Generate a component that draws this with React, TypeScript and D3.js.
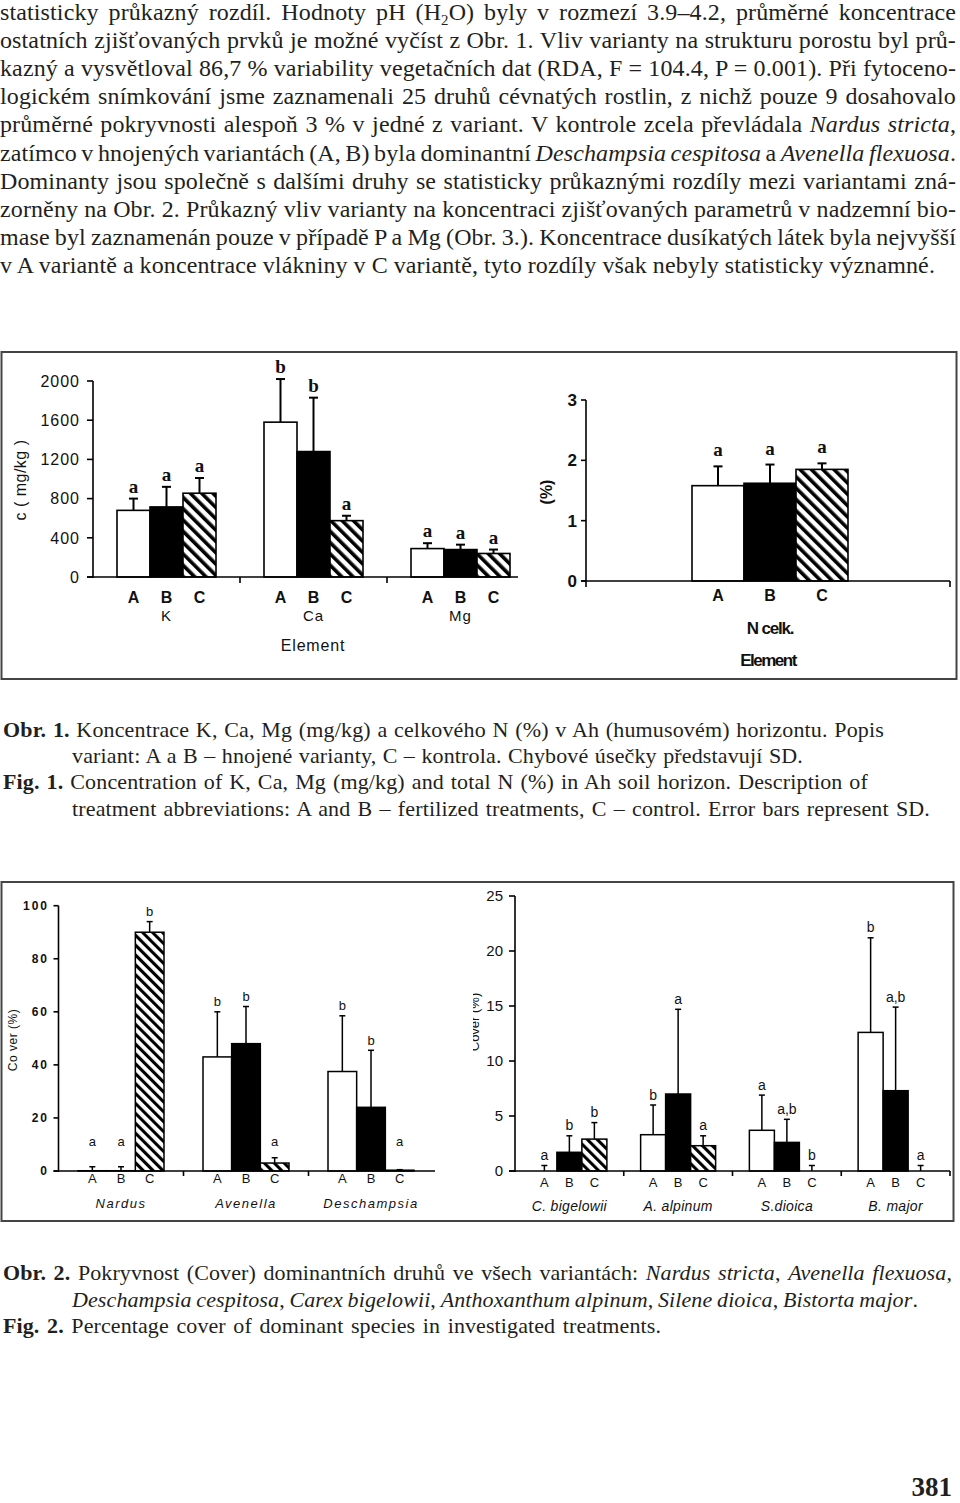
import React, { useLayoutEffect, useRef } from "react";
import * as d3 from "d3";

// ---------------- DATA ----------------
const variants = ["A", "B", "C"];

// Fig. 1 – soil concentrations (mg/kg)
const elements = ["K", "Ca", "Mg"];
const concA = [680, 1580, 290];
const concB = [715, 1280, 280];
const concC = [855, 575, 240];
const concSdA = [120, 440, 55];
const concSdB = [205, 550, 50];
const concSdC = [155, 50, 40];
const concLetA = ["a", "b", "a"];
const concLetB = ["a", "b", "a"];
const concLetC = ["a", "a", "a"];
const concTicks = [0, 400, 800, 1200, 1600, 2000];

// Fig. 1 – total N (%)
const nGroups = ["N celk."];
const nA = [1.58];
const nB = [1.62];
const nC = [1.85];
const nSdA = [0.32];
const nSdB = [0.31];
const nSdC = [0.1];
const nLetA = ["a"];
const nLetB = ["a"];
const nLetC = ["a"];
const nTicks = [0, 1, 2, 3];

// Fig. 2 – cover of dominant grasses (%)
const grasses = ["Nardus", "Avenella", "Deschampsia"];
const grassA = [0.1, 43, 37.5];
const grassB = [0.1, 48, 24];
const grassC = [90, 3, 0.3];
const grassSdA = [1.5, 17, 21];
const grassSdB = [1.5, 14, 21.5];
const grassSdC = [4, 2, 0.2];
const grassLetA = ["a", "b", "b"];
const grassLetB = ["a", "b", "b"];
const grassLetC = ["b", "a", "a"];
const grassTicks = [0, 20, 40, 60, 80, 100];

// Fig. 2 – cover of other species (%)
const herbs = ["C. bigelowii", "A. alpinum", "S.dioica", "B. major"];
const herbA = [0, 3.3, 3.7, 12.6];
const herbB = [1.7, 7.0, 2.6, 7.3];
const herbC = [2.9, 2.3, 0, 0];
const herbSdA = [0.5, 2.7, 3.2, 8.6];
const herbSdB = [1.5, 7.7, 2.1, 7.6];
const herbSdC = [1.5, 0.9, 0.5, 0.5];
const herbLetA = ["a", "b", "a", "b"];
const herbLetB = ["b", "a", "a,b", "a,b"];
const herbLetC = ["b", "a", "b", "a"];
const herbTicks = [0, 5, 10, 15, 20, 25];

// ---------------- TEXT ----------------
type Seg = { t: string; s?: "i" | "b" | "sub" };
const paraLines: Seg[][] = [
  [{ t: "statisticky průkazný rozdíl. Hodnoty pH (H" }, { t: "2", s: "sub" }, { t: "O) byly v rozmezí 3.9–4.2, průměrné koncentrace" }],
  [{ t: "ostatních zjišťovaných prvků je možné vyčíst z Obr. 1. Vliv varianty na strukturu porostu byl prů-" }],
  [{ t: "kazný a vysvětloval 86,7 % variability vegetačních dat (RDA, F = 104.4, P = 0.001). Při fytoceno-" }],
  [{ t: "logickém snímkování jsme zaznamenali 25 druhů cévnatých rostlin, z nichž pouze 9 dosahovalo" }],
  [{ t: "průměrné pokryvnosti alespoň 3 % v jedné z variant. V kontrole zcela převládala " }, { t: "Nardus stricta", s: "i" }, { t: "," }],
  [{ t: "zatímco v hnojených variantách (A, B) byla dominantní " }, { t: "Deschampsia cespitosa", s: "i" }, { t: " a " }, { t: "Avenella flexuosa", s: "i" }, { t: "." }],
  [{ t: "Dominanty jsou společně s dalšími druhy se statisticky průkaznými rozdíly mezi variantami zná-" }],
  [{ t: "zorněny na Obr. 2. Průkazný vliv varianty na koncentraci zjišťovaných parametrů v nadzemní bio-" }],
  [{ t: "mase byl zaznamenán pouze v případě P a Mg (Obr. 3.). Koncentrace dusíkatých látek byla nejvyšší" }],
  [{ t: "v A variantě a koncentrace vlákniny v C variantě, tyto rozdíly však nebyly statisticky významné." }],
];
const cap1Lines: Seg[][] = [
  [{ t: "Obr. 1.", s: "b" }, { t: " Koncentrace K, Ca, Mg (mg/kg) a celkového N (%) v Ah (humusovém) horizontu. Popis" }],
  [{ t: "variant: A a B – hnojené varianty, C – kontrola. Chybové úsečky představují SD." }],
  [{ t: "Fig. 1.", s: "b" }, { t: " Concentration of K, Ca, Mg (mg/kg) and total N (%) in Ah soil horizon. Description of" }],
  [{ t: "treatment abbreviations: A and B – fertilized treatments, C – control. Error bars represent SD." }],
];
const cap2Lines: Seg[][] = [
  [{ t: "Obr. 2.", s: "b" }, { t: " Pokryvnost (Cover) dominantních druhů ve všech variantách: " }, { t: "Nardus stricta", s: "i" }, { t: ", " }, { t: "Avenella flexuosa", s: "i" }, { t: "," }],
  [{ t: "Deschampsia cespitosa", s: "i" }, { t: ", " }, { t: "Carex bigelowii", s: "i" }, { t: ", " }, { t: "Anthoxanthum alpinum", s: "i" }, { t: ", " }, { t: "Silene dioica", s: "i" }, { t: ", " }, { t: "Bistorta major", s: "i" }, { t: "." }],
  [{ t: "Fig. 2.", s: "b" }, { t: " Percentage cover of dominant species in investigated treatments." }],
];
const pageNumber = "381";

// ---------------- LAYOUT ----------------
const SANS = "'Liberation Sans', Arial, Helvetica, sans-serif";
const SERIF = "'Liberation Serif', 'Times New Roman', serif";
const INK = "#231f20";

const paraEnds = [956, 956, 956, 956, 956, 956, 956, 956, 956, 935];
const cap1X = [3, 72, 3, 72];
const cap1Ends = [884, 803, 868, 930];
const cap2X = [3, 72, 3];
const cap2Ends = [952, 918, 661];

function Line({ segs, x, y, end, size, ls }: { segs: Seg[]; x: number; y: number; end: number; size: number; ls: number }) {
  let prevSub = false;
  return (
    <text x={x} y={y} data-end={end} fontFamily={SERIF} fontSize={size} letterSpacing={ls} fill={INK}>
      {segs.map((s, i) => {
        const dy = s.s === "sub" ? 5 : prevSub ? -5 : 0;
        prevSub = s.s === "sub";
        return (
          <tspan
            key={i}
            dy={dy || undefined}
            fontStyle={s.s === "i" ? "italic" : undefined}
            fontWeight={s.s === "b" ? "bold" : undefined}
            fontSize={s.s === "sub" ? size * 0.62 : undefined}
          >
            {s.t}
          </tspan>
        );
      })}
    </text>
  );
}

type PanelProps = {
  groups: string[];
  means: number[][];
  sds: number[][];
  letters: string[][];
  band: [number, number];
  half: number;
  yDomain: [number, number];
  yRange: [number, number];
  ticks: number[];
  axisEnd: number;
  hatch: string;
  barStroke: number;
  errStroke: number;
  capW: number;
  letterStyle: any;
  letterGap: number;
  letterMin?: number;
  tickStyle: any;
  tickLabelX: number;
  tickLen: number;
  sepTicks: number;
  endTick?: boolean;
  startTick?: boolean;
  catY: number;
  catStyle: any;
  groupY: number;
  groupStyle: any;
};

function Panel(p: PanelProps) {
  const x = d3.scaleBand<string>().domain(p.groups).range(p.band).padding(0);
  const inner = d3.scaleBand<string>().domain(variants).range([-p.half, p.half]).padding(0);
  const y = d3.scaleLinear().domain(p.yDomain).range(p.yRange);
  const fills = ["#fff", "#000", `url(#${p.hatch})`];
  const y0 = y(0);
  const axisStart = p.band[0];
  return (
    <g>
      {p.groups.map((g, gi) =>
        variants.map((v, vi) => {
          const m = p.means[vi][gi];
          const bx = (x(g) as number) + x.bandwidth() / 2 + (inner(v) as number);
          const top = y(m);
          return (
            <rect
              key={g + v}
              x={bx}
              y={top}
              width={inner.bandwidth()}
              height={Math.max(0, y0 - top)}
              fill={fills[vi]}
              stroke="#000"
              strokeWidth={p.barStroke}
            />
          );
        })
      )}
      {p.groups.map((g, gi) =>
        variants.map((v, vi) => {
          const m = p.means[vi][gi];
          const sd = p.sds[vi][gi];
          const cx = (x(g) as number) + x.bandwidth() / 2 + (inner(v) as number) + inner.bandwidth() / 2;
          const yt = y(m + sd);
          const yl = y(Math.max(m + sd, p.letterMin ?? 0)) - p.letterGap;
          return (
            <g key={"e" + g + v}>
              <line x1={cx} x2={cx} y1={y(m)} y2={yt} stroke="#000" strokeWidth={p.errStroke} />
              <line x1={cx - p.capW / 2} x2={cx + p.capW / 2} y1={yt} y2={yt} stroke="#000" strokeWidth={p.errStroke} />
              <text x={cx} y={yl} textAnchor="middle" {...p.letterStyle}>
                {p.letters[vi][gi]}
              </text>
              <text x={cx} y={p.catY} textAnchor="middle" {...p.catStyle}>
                {v}
              </text>
            </g>
          );
        })
      )}
      <line x1={axisStart} x2={axisStart} y1={y0 + 1} y2={y(p.yDomain[1])} stroke="#000" strokeWidth={1.6} />
      {p.ticks.map((t) => (
        <g key={"t" + t}>
          <line x1={axisStart - p.tickLen} x2={axisStart} y1={y(t)} y2={y(t)} stroke="#000" strokeWidth={1.6} />
          <text x={p.tickLabelX} y={y(t)} dy="0.36em" textAnchor="end" {...p.tickStyle}>
            {t}
          </text>
        </g>
      ))}
      <line x1={axisStart - p.tickLen} x2={p.axisEnd} y1={y0} y2={y0} stroke="#000" strokeWidth={1.6} />
      {p.groups.slice(1).map((g) => (
        <line key={"s" + g} x1={x(g) as number} x2={x(g) as number} y1={y0} y2={y0 + p.sepTicks} stroke="#000" strokeWidth={1.6} />
      ))}
      {p.endTick && <line x1={p.axisEnd} x2={p.axisEnd} y1={y0} y2={y0 + p.sepTicks} stroke="#000" strokeWidth={1.6} />}
      {p.startTick && <line x1={axisStart} x2={axisStart} y1={y0} y2={y0 + p.sepTicks} stroke="#000" strokeWidth={1.6} />}
      {p.groups.map((g) => (
        <text key={"g" + g} x={(x(g) as number) + x.bandwidth() / 2} y={p.groupY} textAnchor="middle" {...p.groupStyle}>
          {g}
        </text>
      ))}
    </g>
  );
}

export default function App() {
  const ref = useRef<SVGSVGElement>(null);

  useLayoutEffect(() => {
    const run = () => {
      const svg = ref.current;
      if (!svg) return;
      svg.querySelectorAll("text[data-end]").forEach((el: any) => {
        el.style.wordSpacing = "0px";
        const nat = el.getComputedTextLength();
        const spaces = ((el.textContent || "").match(/ +/g) || []).length;
        const target = +el.getAttribute("data-end") - +el.getAttribute("x");
        if (spaces > 0) el.style.wordSpacing = (target - nat) / spaces + "px";
      });
    };
    run();
    if ((document as any).fonts && (document as any).fonts.ready) (document as any).fonts.ready.then(run);
  }, []);

  return (
    <svg ref={ref} width={960} height={1503} style={{ position: "absolute", left: 0, top: 0, background: "#fff" }}>
      <defs>
        <pattern id="hatch1" patternUnits="userSpaceOnUse" width={8} height={8} patternTransform="rotate(-45)">
          <rect width={8} height={8} fill="#fff" />
          <rect width={3.6} height={8} fill="#000" />
        </pattern>
        <pattern id="hatch2" patternUnits="userSpaceOnUse" width={7} height={7} patternTransform="rotate(-45)">
          <rect width={7} height={7} fill="#fff" />
          <rect width={3.1} height={7} fill="#000" />
        </pattern>
        <clipPath id="cutLeft">
          <rect x={473} y={880} width={30} height={340} />
        </clipPath>
      </defs>
      <rect width={960} height={1503} fill="#fff" />

      {paraLines.map((l, i) => (
        <Line key={"p" + i} segs={l} x={0} y={20 + i * 28.1} end={paraEnds[i]} size={24} ls={0.12} />
      ))}

      {/* ---------------- Fig. 1 ---------------- */}
      <rect x={1.5} y={352} width={955} height={327} fill="none" stroke="#444" strokeWidth={2} />
      <Panel
        groups={elements}
        means={[concA, concB, concC]}
        sds={[concSdA, concSdB, concSdC]}
        letters={[concLetA, concLetB, concLetC]}
        band={[93, 534]}
        half={49.5}
        yDomain={[0, 2000]}
        yRange={[577, 381]}
        ticks={concTicks}
        axisEnd={518}
        hatch="hatch1"
        barStroke={1.6}
        errStroke={2}
        capW={9}
        letterStyle={{ fontFamily: SERIF, fontWeight: "bold", fontSize: 19, fill: "#111" }}
        letterGap={6}
        tickStyle={{ fontFamily: SANS, fontSize: 16, letterSpacing: 1, fill: "#111" }}
        tickLabelX={80}
        tickLen={6}
        sepTicks={6}
        catY={603}
        catStyle={{ fontFamily: SANS, fontWeight: "bold", fontSize: 16, fill: "#111" }}
        groupY={621}
        groupStyle={{ fontFamily: SANS, fontSize: 15, letterSpacing: 1, fill: "#111" }}
      />
      <text transform="translate(26,480) rotate(-90)" textAnchor="middle" fontFamily={SANS} fontSize={16} letterSpacing={0.5} fill="#111">
        c ( mg/kg )
      </text>
      <text x={313} y={651} textAnchor="middle" fontFamily={SANS} fontSize={16} letterSpacing={0.8} fill="#111">
        Element
      </text>

      <Panel
        groups={nGroups}
        means={[nA, nB, nC]}
        sds={[nSdA, nSdB, nSdC]}
        letters={[nLetA, nLetB, nLetC]}
        band={[586, 954]}
        half={78}
        yDomain={[0, 3]}
        yRange={[581, 400]}
        ticks={nTicks}
        axisEnd={950}
        hatch="hatch1"
        barStroke={1.6}
        errStroke={2}
        capW={9}
        letterStyle={{ fontFamily: SERIF, fontWeight: "bold", fontSize: 19, fill: "#111" }}
        letterGap={10}
        tickStyle={{ fontFamily: SANS, fontWeight: "bold", fontSize: 17, fill: "#111" }}
        tickLabelX={577}
        tickLen={5}
        sepTicks={6}
        endTick
        startTick
        catY={601}
        catStyle={{ fontFamily: SANS, fontWeight: "bold", fontSize: 16, fill: "#111" }}
        groupY={634}
        groupStyle={{ fontFamily: SANS, fontWeight: "bold", fontSize: 17, letterSpacing: -1.2, fill: "#111" }}
      />
      <text transform="translate(552,492) rotate(-90)" textAnchor="middle" fontFamily={SANS} fontWeight="bold" fontSize={16} fill="#111">
        (%)
      </text>
      <text x={768} y={666} textAnchor="middle" fontFamily={SANS} fontWeight="bold" fontSize={17} letterSpacing={-1.5} fill="#111">
        Element
      </text>

      {cap1Lines.map((l, i) => (
        <Line key={"c1" + i} segs={l} x={cap1X[i]} y={737 + i * 26.2} end={cap1Ends[i]} size={22} ls={0.15} />
      ))}

      {/* ---------------- Fig. 2 ---------------- */}
      <rect x={1.5} y={882} width={952} height={339} fill="none" stroke="#444" strokeWidth={2} />
      <Panel
        groups={grasses}
        means={[grassA, grassB, grassC]}
        sds={[grassSdA, grassSdB, grassSdC]}
        letters={[grassLetA, grassLetB, grassLetC]}
        band={[58.5, 433.5]}
        half={43}
        yDomain={[0, 100]}
        yRange={[1171, 905.7]}
        ticks={grassTicks}
        axisEnd={435}
        hatch="hatch2"
        barStroke={1.5}
        errStroke={1.5}
        capW={6}
        letterStyle={{ fontFamily: SANS, fontSize: 13, fill: "#111" }}
        letterGap={5.5}
        letterMin={7.5}
        tickStyle={{ fontFamily: SANS, fontWeight: "bold", fontSize: 12, letterSpacing: 2, fill: "#111" }}
        tickLabelX={49}
        tickLen={5}
        sepTicks={5}
        catY={1183}
        catStyle={{ fontFamily: SANS, fontSize: 13, fill: "#111" }}
        groupY={1208}
        groupStyle={{ fontFamily: SANS, fontStyle: "italic", fontSize: 13, letterSpacing: 1.5, fill: "#111" }}
      />
      <text transform="translate(17,1040) rotate(-90)" textAnchor="middle" fontFamily={SANS} fontSize={12} letterSpacing={0.5} fill="#111">
        Co ver (%)
      </text>

      <Panel
        groups={herbs}
        means={[herbA, herbB, herbC]}
        sds={[herbSdA, herbSdB, herbSdC]}
        letters={[herbLetA, herbLetB, herbLetC]}
        band={[515, 950]}
        half={37.5}
        yDomain={[0, 25]}
        yRange={[1171, 896]}
        ticks={herbTicks}
        axisEnd={950}
        hatch="hatch2"
        barStroke={1.5}
        errStroke={1.5}
        capW={6}
        letterStyle={{ fontFamily: SANS, fontSize: 14, fill: "#111" }}
        letterGap={5.5}
        tickStyle={{ fontFamily: SANS, fontSize: 15, fill: "#111" }}
        tickLabelX={503}
        tickLen={6}
        sepTicks={5}
        endTick
        catY={1187}
        catStyle={{ fontFamily: SANS, fontSize: 13, fill: "#111" }}
        groupY={1211}
        groupStyle={{ fontFamily: SANS, fontStyle: "italic", fontSize: 14, letterSpacing: 0.3, fill: "#111" }}
      />
      <g clipPath="url(#cutLeft)">
        <text transform="translate(479,1022) rotate(-90)" textAnchor="middle" fontFamily={SANS} fontSize={13} fill="#111">
          Cover (%)
        </text>
      </g>

      {cap2Lines.map((l, i) => (
        <Line key={"c2" + i} segs={l} x={cap2X[i]} y={1280 + i * 26.5} end={cap2Ends[i]} size={22} ls={0.1} />
      ))}

      <text x={952} y={1496} textAnchor="end" fontFamily={SERIF} fontWeight="bold" fontSize={27} fill={INK}>
        {pageNumber}
      </text>
    </svg>
  );
}
